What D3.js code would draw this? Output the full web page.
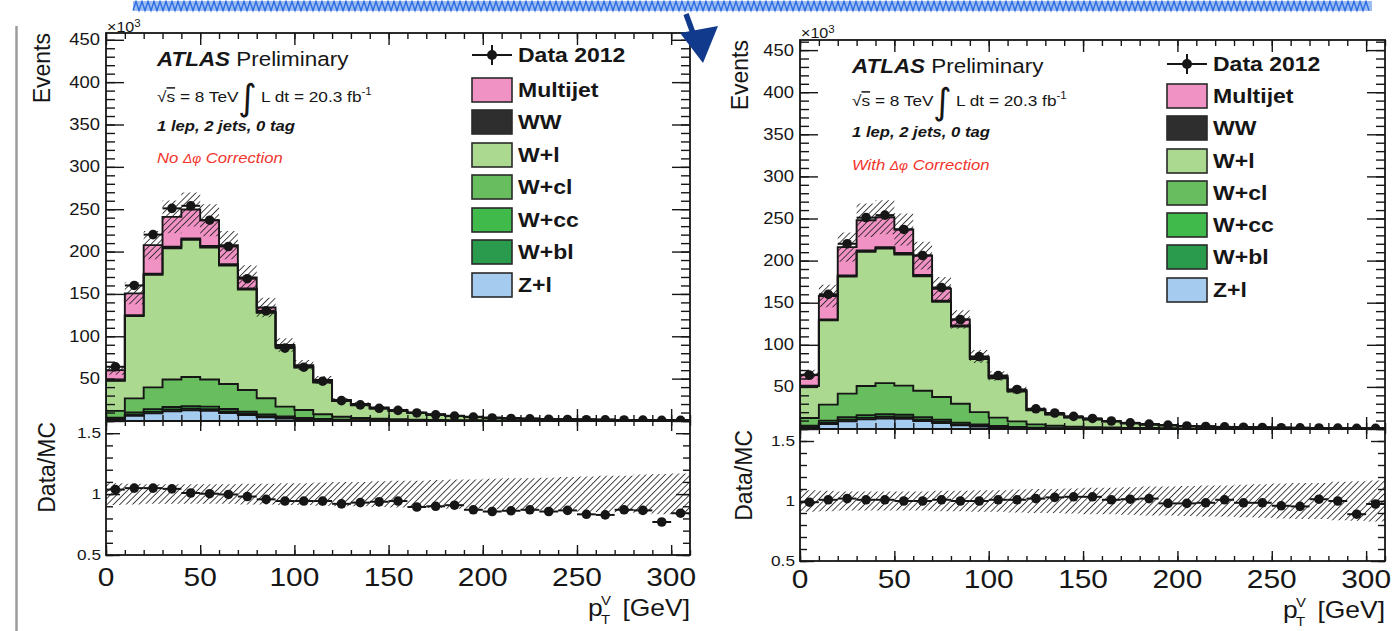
<!DOCTYPE html>
<html>
<head>
<meta charset="utf-8">
<script src="https://cdn.jsdelivr.net/npm/d3@7"></script>
<style>
  html, body { margin: 0; padding: 0; background: #fff; }
  svg { display: block; }
</style>
</head>
<body>
<svg id="chart" width="1400" height="631"></svg>
<script>
// ---- Binning: p_T^V in 10 GeV bins (lower edges, GeV) ----
const binLow = [0, 10, 20, 30, 40, 50, 60, 70, 80, 90, 100, 110, 120, 130, 140, 150,
                160, 170, 180, 190, 200, 210, 220, 230, 240, 250, 260, 270, 280, 290, 300];
const binWidth = 10;

// ---- Data 2012 (events per bin, x10^3) ----
const dataCounts = [64, 160, 220, 251, 254, 237, 206, 168, 130, 86, 63.5, 47, 24, 19, 15, 12.5,
                    9.5, 7.3, 5.8, 4.6, 3.6, 3.0, 2.5, 2.1, 1.85, 1.55, 1.35, 1.2, 1.05, 0.85, 0.8];

// ---- MC prediction without the delta-phi correction (x10^3) ----
const multijetNo = [12, 25.6, 33.6, 35.4, 34.2, 30.5, 22.6, 13, 5, 2, 2, 2.4, 0.8, 1, 1, 1,
                    0.5, 0.4, 0.3, 0.25, 0.2, 0.2, 0.15, 0.15, 0.12, 0.1, 0.1, 0.08, 0.07, 0.06, 0.05];
const wwNo = [0.4, 1.0, 1.4, 1.6, 1.7, 1.7, 1.6, 1.4, 1.2, 1.0, 0.8, 0.6, 0.45, 0.35, 0.3, 0.25,
              0.2, 0.16, 0.13, 0.11, 0.09, 0.08, 0.07, 0.06, 0.05, 0.04, 0.04, 0.03, 0.03, 0.03, 0.02];
const wlNo = [35.6, 97.3, 132.9, 155, 161.8, 155.8, 139.7, 118.5, 101, 69.7, 50.2, 37.4, 18.55, 15.15, 12.1, 9.75,
              7.8, 6.14, 4.87, 3.89, 3.06, 2.57, 2.18, 1.86, 1.62, 1.38, 1.22, 1.07, 0.9, 0.82, 0.75];
const wclNo = [8, 16.7, 25.7, 32.5, 34.5, 32, 29.6, 25.7, 19.2, 11.7, 9.4, 5.7, 3.4, 2.45, 1.8, 1.4,
               1.07, 0.87, 0.75, 0.58, 0.48, 0.41, 0.34, 0.29, 0.25, 0.22, 0.19, 0.15, 0.13, 0.12, 0.1];
const wccNo = [1.5, 2.5, 3, 3, 3, 3, 2.8, 2.4, 1.9, 1.4, 1, 0.7, 0.5, 0.35, 0.25, 0.2,
               0.15, 0.12, 0.1, 0.08, 0.06, 0.05, 0.04, 0.03, 0.03, 0.02, 0.02, 0.02, 0.01, 0.01, 0.01];
const wblNo = [1, 1.5, 2, 2, 2, 2, 1.8, 1.5, 1.2, 0.9, 0.6, 0.4, 0.3, 0.2, 0.15, 0.1,
               0.08, 0.06, 0.05, 0.04, 0.03, 0.03, 0.02, 0.02, 0.02, 0.01, 0.01, 0.01, 0.01, 0.01, 0.01];
const zlNo = [1.5, 6, 9, 11.5, 12.5, 12, 9.5, 7, 4.5, 3, 2, 1.2, 0.8, 0.5, 0.4, 0.3,
              0.2, 0.15, 0.1, 0.1, 0.08, 0.06, 0.05, 0.04, 0.03, 0.03, 0.02, 0.02, 0.02, 0.01, 0.01];
const ratioNo = [1.037, 1.049, 1.049, 1.043, 1.009, 1.003, 0.997, 0.98, 0.957, 0.943, 0.943, 0.943, 0.92, 0.93, 0.937, 0.943,
                 0.894, 0.9, 0.909, 0.871, 0.857, 0.863, 0.871, 0.857, 0.866, 0.834, 0.829, 0.871, 0.866, 0.771, 0.843];

// ---- MC prediction with the delta-phi correction (x10^3) ----
const multijetWith = [13, 28, 33.5, 36, 35.5, 28, 23, 14, 7, 2, 2, 1.5, 0.8, 0.8, 0.7, 0.6,
                      0.4, 0.3, 0.25, 0.2, 0.17, 0.15, 0.12, 0.1, 0.09, 0.08, 0.07, 0.06, 0.05, 0.05, 0.04];
const wwWith = [0.4, 1.0, 1.4, 1.6, 1.7, 1.7, 1.6, 1.4, 1.2, 1.0, 0.8, 0.6, 0.45, 0.35, 0.3, 0.25,
                0.2, 0.16, 0.13, 0.11, 0.09, 0.08, 0.07, 0.06, 0.05, 0.04, 0.04, 0.03, 0.03, 0.03, 0.02];
const wlWith = [38.1, 100, 139.1, 159.4, 159.8, 155.8, 135.9, 113.1, 91.8, 63, 46.7, 35.4, 16.75, 13.45, 10.7, 9.05,
                7.1, 5.44, 4.22, 3.49, 2.72, 2.22, 1.81, 1.55, 1.38, 1.18, 1.03, 0.87, 0.78, 0.71, 0.62];
const wclWith = [9, 19, 28, 34.5, 37, 34.5, 31.4, 27.1, 22.4, 14.7, 9.9, 6.7, 3.9, 2.75, 2.0, 1.6,
                 1.27, 0.97, 0.85, 0.68, 0.55, 0.46, 0.39, 0.33, 0.28, 0.24, 0.21, 0.17, 0.15, 0.13, 0.11];
const wccWith = [1.5, 2.5, 3, 3, 3, 3, 2.8, 2.4, 1.9, 1.4, 1, 0.7, 0.5, 0.35, 0.25, 0.2,
                 0.15, 0.12, 0.1, 0.08, 0.06, 0.05, 0.04, 0.03, 0.03, 0.02, 0.02, 0.02, 0.01, 0.01, 0.01];
const wblWith = [1, 1.5, 2, 2, 2, 2, 1.8, 1.5, 1.2, 0.9, 0.6, 0.4, 0.3, 0.2, 0.15, 0.1,
                 0.08, 0.06, 0.05, 0.04, 0.03, 0.03, 0.02, 0.02, 0.02, 0.01, 0.01, 0.01, 0.01, 0.01, 0.01];
const zlWith = [1.5, 6, 9, 11.5, 12.5, 12, 9.5, 7, 4.5, 3, 2, 1.2, 0.8, 0.5, 0.4, 0.3,
                0.2, 0.15, 0.1, 0.1, 0.08, 0.06, 0.05, 0.04, 0.03, 0.03, 0.02, 0.02, 0.02, 0.01, 0.01];
const ratioWith = [0.99, 1.01, 1.02, 1.01, 1.01, 1.0, 1.0, 1.01, 1.0, 1.0, 1.01, 1.01, 1.02, 1.03, 1.035, 1.035,
                   1.01, 1.015, 1.02, 0.98, 0.98, 0.985, 1.01, 0.985, 0.985, 0.96, 0.955, 1.015, 1.0, 0.89, 0.975];

// ---- Relative MC uncertainty per bin (hatched bands) ----
const mcUncertainty = [0.09, 0.085, 0.08, 0.08, 0.08, 0.08, 0.08, 0.085, 0.085, 0.09, 0.09, 0.095, 0.1, 0.1, 0.105, 0.11,
                       0.11, 0.115, 0.12, 0.12, 0.125, 0.13, 0.13, 0.135, 0.14, 0.145, 0.15, 0.15, 0.16, 0.165, 0.17];

// ---- Tick labels ----
const xTickLabels = [0, 50, 100, 150, 200, 250, 300];
const yTickLabels = [50, 100, 150, 200, 250, 300, 350, 400, 450];
const ratioTickLabels = [0.5, 1, 1.5];

// ---- Legend entries (top of the stack first) ----
const legendNames = ["Multijet", "WW", "W+l", "W+cl", "W+cc", "W+bl", "Z+l"];
const stackKeys = ["mj", "ww", "wl", "wcl", "wcc", "wbl", "zl"];
const fillColors = {
  mj: "#f192c5", ww: "#2e2e2e", wl: "#abd98f", wcl: "#68bd5e",
  wcc: "#3fba4b", wbl: "#2a9a4c", zl: "#a5cbee"
};

// ---------------------------------------------------------------
const SX = 1.15;
const FONT = '"Liberation Sans", Arial, Helvetica, sans-serif';
const INK = "#161616";
const svg = d3.select("#chart");
const defs = svg.append("defs");

defs.append("pattern")
  .attr("id", "hatch").attr("patternUnits", "userSpaceOnUse")
  .attr("width", 4.5).attr("height", 4.5).attr("patternTransform", "rotate(45)")
  .append("line").attr("x1", 0).attr("y1", 0).attr("x2", 0).attr("y2", 4.5)
  .attr("stroke", "#1c1c1c").attr("stroke-width", 1.6);

function txt(g, x, y, parts, o = {}) {
  const t = g.append("text")
    .attr("transform", `translate(${x},${y}) scale(${o.sx ?? SX},1)`)
    .attr("text-anchor", o.anchor || "start")
    .style("font-family", o.family || FONT)
    .style("font-size", (o.size || 16) + "px")
    .style("font-weight", o.weight || "normal")
    .style("font-style", o.style || "normal")
    .attr("fill", o.fill || INK);
  if (typeof parts === "string") { t.text(parts); return t; }
  parts.forEach(p => {
    const s = t.append("tspan").text(p.t);
    if (p.size) s.style("font-size", p.size + "px");
    if (p.weight) s.style("font-weight", p.weight);
    if (p.style) s.style("font-style", p.style);
    if (p.dy != null) s.attr("dy", p.dy);
    if (p.dx != null) s.attr("dx", p.dx);
    if (p.fill) s.attr("fill", p.fill);
    if (p.deco) s.style("text-decoration", p.deco);
  });
  return t;
}

function rotTitle(g, x, y, str, size) {
  g.append("text")
    .attr("transform", `translate(${x},${y}) rotate(-90)`)
    .attr("text-anchor", "end")
    .style("font-family", FONT).style("font-size", size + "px")
    .attr("fill", INK).text(str);
}

// step outline points of a histogram
function stepPoints(vals) {
  const pts = [];
  vals.forEach((v, i) => { pts.push([binLow[i], v]); pts.push([binLow[i] + binWidth, v]); });
  return pts;
}

const panels = [
  {
    x0: 106, x1: 690, top: 33, mid: 421, bot: 555, yMax: 458,
    tx: 157, tyAtlas: 66, tyEnergy: 102, tySel: 131, tyCorr: 163, corr: "No ",
    legX: 472, legY: [55, 90, 122, 155, 187, 220, 252, 285],
    expY: 32, evX: 50, rtX: 55, xLabY: 586, titleY: 616,
    comps: { mj: multijetNo, ww: wwNo, wl: wlNo, wcl: wclNo, wcc: wccNo, wbl: wblNo, zl: zlNo },
    ratio: ratioNo
  },
  {
    x0: 800, x1: 1385, top: 40, mid: 429, bot: 561, yMax: 462,
    tx: 852, tyAtlas: 73, tyEnergy: 106, tySel: 137, tyCorr: 170, corr: "With ",
    legX: 1167, legY: [64, 96, 128, 161, 193, 225, 257, 290],
    expY: 38, evX: 748, rtX: 752, xLabY: 588, titleY: 618,
    comps: { mj: multijetWith, ww: wwWith, wl: wlWith, wcl: wclWith, wcc: wccWith, wbl: wblWith, zl: zlWith },
    ratio: ratioWith
  }
];

panels.forEach((p, pi) => {
  const g = svg.append("g");
  const x = d3.scaleLinear().domain([0, 310]).range([p.x0, p.x1]);
  const yU = d3.scaleLinear().domain([0, p.yMax]).range([p.mid, p.top]);
  const yR = d3.scaleLinear().domain([0.5, 1.6]).range([p.bot, p.mid]);

  const clipU = `clipU${pi}`, clipR = `clipR${pi}`;
  defs.append("clipPath").attr("id", clipU).append("rect")
    .attr("x", p.x0).attr("y", p.top).attr("width", p.x1 - p.x0).attr("height", p.mid - p.top);
  defs.append("clipPath").attr("id", clipR).append("rect")
    .attr("x", p.x0).attr("y", p.mid).attr("width", p.x1 - p.x0).attr("height", p.bot - p.mid);

  // ----- stacked MC histograms -----
  const rows = binLow.map((b, i) => {
    const r = { bin: b };
    stackKeys.forEach(k => { r[k] = p.comps[k][i]; });
    return r;
  });
  const order = ["zl", "wbl", "wcc", "wcl", "wl", "ww", "mj"];
  const stacked = d3.stack().keys(order)(rows);

  const up = g.append("g").attr("clip-path", `url(#${clipU})`);
  const area = d3.area().x(d => x(d[0])).y0(d => yU(d[1])).y1(d => yU(d[2]));
  const line = d3.line().x(d => x(d[0])).y(d => yU(d[1]));

  stacked.forEach(s => {
    const pts = [];
    s.forEach((d, i) => {
      pts.push([binLow[i], d[0], d[1]]);
      pts.push([binLow[i] + binWidth, d[0], d[1]]);
    });
    up.append("path").attr("d", area(pts)).attr("fill", fillColors[s.key]).attr("stroke", "none");
  });
  stacked.forEach(s => {
    const tops = s.map(d => d[1]);
    const pts = [[0, 0], ...stepPoints(tops), [310, 0]];
    up.append("path").attr("d", line(pts)).attr("fill", "none")
      .attr("stroke", INK).attr("stroke-width", 1.9).attr("stroke-linejoin", "miter");
  });

  // ----- MC uncertainty band on the total -----
  const total = stacked[stacked.length - 1].map(d => d[1]);
  const bandPts = [];
  total.forEach((v, i) => {
    const lo = v * (1 - mcUncertainty[i]), hi = v * (1 + mcUncertainty[i]);
    bandPts.push([binLow[i], lo, hi]);
    bandPts.push([binLow[i] + binWidth, lo, hi]);
  });
  up.append("path").attr("d", area(bandPts)).attr("fill", "url(#hatch)").attr("stroke", "none");

  // ----- data points -----
  const dg = up.append("g");
  dataCounts.forEach((v, i) => {
    const cx = x(binLow[i] + binWidth / 2), cy = yU(v);
    dg.append("line").attr("x1", x(binLow[i])).attr("x2", x(binLow[i] + binWidth))
      .attr("y1", cy).attr("y2", cy).attr("stroke", INK).attr("stroke-width", 2);
    dg.append("circle").attr("cx", cx).attr("cy", cy).attr("r", 4.8).attr("fill", INK);
  });

  // ----- ratio panel -----
  const lo = g.append("g").attr("clip-path", `url(#${clipR})`);
  const areaR = d3.area().x(d => x(d[0])).y0(d => yR(d[1])).y1(d => yR(d[2]));
  const rBand = [];
  mcUncertainty.forEach((u, i) => {
    rBand.push([binLow[i], 1 - u, 1 + u]);
    rBand.push([binLow[i] + binWidth, 1 - u, 1 + u]);
  });
  lo.append("path").attr("d", areaR(rBand)).attr("fill", "url(#hatch)");
  p.ratio.forEach((r, i) => {
    const cy = yR(r);
    lo.append("line").attr("x1", x(binLow[i])).attr("x2", x(binLow[i] + binWidth))
      .attr("y1", cy).attr("y2", cy).attr("stroke", INK).attr("stroke-width", 2);
    lo.append("circle").attr("cx", x(binLow[i] + binWidth / 2)).attr("cy", cy).attr("r", 4.8).attr("fill", INK);
  });

  // ----- ticks (pointing into the frame) -----
  const tickStyle = sel => {
    sel.select(".domain").remove();
    sel.selectAll("line").attr("stroke", INK).attr("stroke-width", 1.4);
    sel.selectAll("text").remove();
  };
  const xMinor = d3.range(0, 311, 10), xMajor = d3.range(0, 301, 50);
  const yMinor = d3.range(0, p.yMax, 10), yMajor = d3.range(0, p.yMax, 50);
  const rMinor = d3.range(0.5, 1.61, 0.1), rMajor = [0.5, 1, 1.5];

  const ax = (axisFn, scale, vals, size, tr) =>
    g.append("g").attr("transform", tr).call(axisFn(scale).tickValues(vals).tickSize(-size).tickFormat("")).call(tickStyle);

  ax(d3.axisLeft, yU, yMinor, 9, `translate(${p.x0},0)`);
  ax(d3.axisLeft, yU, yMajor, 18, `translate(${p.x0},0)`);
  ax(d3.axisRight, yU, yMinor, 9, `translate(${p.x1},0)`);
  ax(d3.axisRight, yU, yMajor, 18, `translate(${p.x1},0)`);
  ax(d3.axisTop, x, xMinor, 6, `translate(0,${p.top})`);
  ax(d3.axisTop, x, xMajor, 12, `translate(0,${p.top})`);
  ax(d3.axisBottom, x, xMinor, 6, `translate(0,${p.mid})`);
  ax(d3.axisBottom, x, xMajor, 12, `translate(0,${p.mid})`);

  ax(d3.axisLeft, yR, rMinor, 7, `translate(${p.x0},0)`);
  ax(d3.axisLeft, yR, rMajor, 14, `translate(${p.x0},0)`);
  ax(d3.axisRight, yR, rMinor, 7, `translate(${p.x1},0)`);
  ax(d3.axisRight, yR, rMajor, 14, `translate(${p.x1},0)`);
  ax(d3.axisTop, x, xMinor, 5, `translate(0,${p.mid})`);
  ax(d3.axisTop, x, xMajor, 10, `translate(0,${p.mid})`);
  ax(d3.axisBottom, x, xMinor, 5, `translate(0,${p.bot})`);
  ax(d3.axisBottom, x, xMajor, 10, `translate(0,${p.bot})`);

  // ----- frames -----
  g.append("rect").attr("x", p.x0).attr("y", p.top).attr("width", p.x1 - p.x0).attr("height", p.bot - p.top)
    .attr("fill", "none").attr("stroke", INK).attr("stroke-width", 1.8);
  g.append("line").attr("x1", p.x0).attr("x2", p.x1).attr("y1", p.mid).attr("y2", p.mid)
    .attr("stroke", INK).attr("stroke-width", 1.8);

  // ----- tick labels -----
  yTickLabels.forEach(v => txt(g, p.x0 - 6, yU(v) + 5.5, String(v), { size: 16, anchor: "end" }));
  ratioTickLabels.forEach(v => txt(g, p.x0 - 5, yR(v) + 5, String(v), { size: 15, anchor: "end" }));
  xTickLabels.forEach(v => txt(g, x(v), p.xLabY, String(v), { size: 26, anchor: "middle" }));
  txt(g, p.x0 + 1, p.expY, [{ t: "×10" }, { t: "3", size: 10, dy: -5 }], { size: 14 });

  // ----- axis titles -----
  rotTitle(g, p.evX, p.top, "Events", 23);
  rotTitle(g, p.rtX, p.mid + 1, "Data/MC", 23);
  txt(g, p.x1 - 102, p.titleY, "p", { size: 23 });
  txt(g, p.x1 - 89, p.titleY - 11, "V", { size: 13 });
  txt(g, p.x1 - 89, p.titleY + 8, "T", { size: 13 });
  txt(g, p.x1, p.titleY, "[GeV]", { size: 23, anchor: "end" });

  // ----- ATLAS labels -----
  txt(g, p.tx, p.tyAtlas, [{ t: "ATLAS", weight: "bold", style: "italic" }, { t: " Preliminary" }], { size: 19.5 });
  txt(g, p.tx, p.tyEnergy, [{ t: "√" }, { t: "s", deco: "overline" }, { t: " = 8 TeV" }], { size: 15 });
  g.append("text").attr("transform", `translate(${p.tx + 81},${p.tyEnergy + 8})`)
    .style("font-family", '"DejaVu Sans", sans-serif').style("font-size", "36px")
    .attr("fill", INK).text("∫");
  txt(g, p.tx + 104, p.tyEnergy, [{ t: "L dt = 20.3 fb" }, { t: "-1", size: 10, dy: -7 }], { size: 15 });
  txt(g, p.tx, p.tySel, "1 lep, 2 jets, 0 tag", { size: 14.5, weight: "bold", style: "italic" });
  txt(g, p.tx, p.tyCorr, [{ t: p.corr }, { t: "Δφ", size: 12 }, { t: " Correction" }],
      { size: 14.5, style: "italic", fill: "#f2342c" });

  // ----- legend -----
  const lg = g.append("g");
  const dy0 = p.legY[0];
  lg.append("line").attr("x1", p.legX).attr("x2", p.legX + 40).attr("y1", dy0).attr("y2", dy0)
    .attr("stroke", INK).attr("stroke-width", 2);
  lg.append("line").attr("x1", p.legX + 20).attr("x2", p.legX + 20).attr("y1", dy0 - 10).attr("y2", dy0 + 10)
    .attr("stroke", INK).attr("stroke-width", 2);
  lg.append("circle").attr("cx", p.legX + 20).attr("cy", dy0).attr("r", 5).attr("fill", INK);
  txt(lg, p.legX + 46, dy0 + 7, "Data 2012", { size: 20, weight: "bold" });
  legendNames.forEach((name, i) => {
    const cy = p.legY[i + 1];
    lg.append("rect").attr("x", p.legX).attr("y", cy - 12).attr("width", 40).attr("height", 24)
      .attr("fill", fillColors[stackKeys[i]]).attr("stroke", "#2a2a2a").attr("stroke-width", 1.6);
    txt(lg, p.legX + 46, cy + 7, name, { size: 20, weight: "bold" });
  });
});

// ----- page decorations: highlight stroke, arrow, margin rule -----
const deco = svg.append("g");
deco.append("rect").attr("x", 133).attr("y", 1).attr("width", 1239).attr("height", 10).attr("fill", "#9dbdf3");
const zz = d3.range(133, 1372, 3).map((xv, i) => [xv, i % 2 ? 1.5 : 10.5]);
deco.append("path").attr("d", d3.line()(zz)).attr("fill", "none").attr("stroke", "#2e6de0").attr("stroke-width", 1.4);
deco.append("line").attr("x1", 16.5).attr("x2", 16.5).attr("y1", 26).attr("y2", 631)
  .attr("stroke", "#9c9c9c").attr("stroke-width", 2.5);
deco.append("path").attr("d", "M686,14 L697,44").attr("stroke", "#123a8c").attr("stroke-width", 5.5).attr("fill", "none");
deco.append("path").attr("d", "M680,33 L718,26 L703,63 Z").attr("fill", "#123a8c");
</script>
</body>
</html>
